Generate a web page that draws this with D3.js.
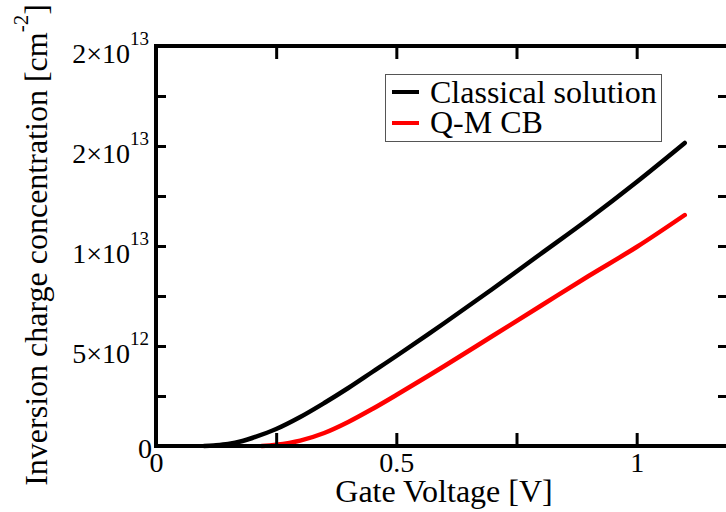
<!DOCTYPE html>
<html>
<head>
<meta charset="utf-8">
<script src="https://cdn.jsdelivr.net/npm/d3@7"></script>
<style>
  body { margin: 0; background: #fff; }
  svg text { font-family: "Liberation Serif", "LiberationSerif", "Times New Roman", Times, "DejaVu Serif", serif !important; fill: #000; }
</style>
</head>
<body>
<div id="chart"></div>
<script>
// data: gate voltage [V] vs inversion charge [cm^-2]
var classicalV = [0.10, 0.12, 0.15, 0.18, 0.20, 0.25, 0.30, 0.35, 0.40, 0.45, 0.50, 0.60, 0.70, 0.80, 0.90, 1.00, 1.10];
var classicalQ = [0, 0.03e12, 0.1e12, 0.25e12, 0.4e12, 0.85e12, 1.45e12, 2.15e12, 2.9e12, 3.7e12, 4.5e12, 6.15e12, 7.85e12, 9.6e12, 11.35e12, 13.2e12, 15.15e12];

var qmV = [0.22, 0.25, 0.30, 0.35, 0.40, 0.45, 0.50, 0.60, 0.70, 0.80, 0.90, 1.00, 1.10];
var qmQ = [0, 0.06e12, 0.27e12, 0.65e12, 1.2e12, 1.85e12, 2.55e12, 4.0e12, 5.5e12, 7.0e12, 8.5e12, 9.95e12, 11.55e12];

var seriesNames = ["Classical solution", "Q-M CB"];
var seriesColors = ["#000000", "#ff0000"];

// axis ticks and labels
var xTicks = [0, 0.25, 0.5, 0.75, 1];
var xLabels = ["0", "", "0.5", "", "1"];
var yTicks = [0, 2.5e12, 5e12, 7.5e12, 1e13, 1.25e13, 1.5e13, 1.75e13, 2e13];
var yLabelValues = [0, 5e12, 1e13, 1.5e13, 2e13];
var yLabelBase = ["0", "5\u00d710", "1\u00d710", "2\u00d710", "2\u00d710"];
var yLabelExp = ["", "12", "13", "13", "13"];

var W = 726, H = 512;
var serif = "'Liberation Serif', 'Times New Roman', Times, 'DejaVu Serif', serif";

var svg = d3.select("#chart")
  .append("svg")
    .attr("width", W)
    .attr("height", H)
    .attr("font-family", serif);

var x = d3.scaleLinear().domain([0, 1.19]).range([156, 728]);
var y = d3.scaleLinear().domain([0, 2e13]).range([446, 46]);

// curves
var line = d3.line()
  .x(function(d) { return x(d[0]); })
  .y(function(d) { return y(d[1]); })
  .curve(d3.curveCatmullRom);

var series = [
  d3.zip(classicalV, classicalQ),
  d3.zip(qmV, qmQ)
];

series.forEach(function(s, i) {
  svg.append("path")
    .datum(s)
    .attr("fill", "none")
    .attr("stroke", seriesColors[i])
    .attr("stroke-width", 4.5)
    .attr("stroke-linecap", "round")
    .attr("stroke-linejoin", "round")
    .attr("d", line);
});

// axes (ticks inward)
function styleAxis(g) {
  g.attr("font-family", null).attr("font-size", null);
  g.select(".domain").remove();
  g.selectAll(".tick line").attr("stroke", "#000").attr("stroke-width", 3);
}

svg.append("g")
  .attr("transform", "translate(0," + y(0) + ")")
  .call(d3.axisBottom(x).tickValues(xTicks).tickSizeInner(-13).tickSizeOuter(0).tickPadding(6)
    .tickFormat(function(d, i) { return xLabels[i]; }))
  .call(styleAxis)
  .selectAll("text")
    .style("font-family", serif)
    .style("font-size", "28px");

svg.append("g")
  .attr("transform", "translate(0," + y(2e13) + ")")
  .call(d3.axisTop(x).tickValues(xTicks).tickSizeInner(-13).tickSizeOuter(0).tickFormat(""))
  .call(styleAxis);

svg.append("g")
  .attr("transform", "translate(" + x(0) + ",0)")
  .call(d3.axisLeft(y).tickValues(yTicks).tickSizeInner(-10).tickSizeOuter(0).tickFormat(""))
  .call(styleAxis);

svg.append("g")
  .attr("transform", "translate(" + x(1.19) + ",0)")
  .call(d3.axisRight(y).tickValues(yTicks).tickSizeInner(-10).tickSizeOuter(0).tickFormat(""))
  .call(styleAxis);

// frame
svg.append("rect")
  .attr("x", x(0))
  .attr("y", y(2e13))
  .attr("width", x(1.19) - x(0))
  .attr("height", y(0) - y(2e13))
  .attr("fill", "none")
  .attr("stroke", "#000")
  .attr("stroke-width", 4);

// y tick labels with superscripts
yLabelValues.forEach(function(v, i) {
  var t = svg.append("text")
    .attr("x", yLabelExp[i] ? 149 : 152)
    .attr("y", y(v) + (yLabelExp[i] ? 17 : 12))
    .attr("text-anchor", "end")
    .style("font-size", "28px");
  t.append("tspan").text(yLabelBase[i]);
  if (yLabelExp[i]) {
    t.append("tspan")
      .attr("dy", -18)
      .style("font-size", "19px")
      .text(yLabelExp[i]);
  }
});

// axis titles
svg.append("text")
  .attr("x", 444)
  .attr("y", 502)
  .attr("text-anchor", "middle")
  .style("font-size", "32px")
  .text("Gate Voltage [V]");

var yt = svg.append("text")
  .attr("transform", "translate(47,245) rotate(-90)")
  .attr("text-anchor", "middle")
  .style("font-size", "32px");
yt.append("tspan").text("Inversion charge concentration [cm");
yt.append("tspan").attr("dy", -19).style("font-size", "21px").text("-2");
yt.append("tspan").attr("dy", 19).text("]");

// legend
var legend = svg.append("g");
legend.append("rect")
  .attr("x", 385.5)
  .attr("y", 74.5)
  .attr("width", 276)
  .attr("height", 67)
  .attr("fill", "#fff")
  .attr("stroke", "#555")
  .attr("stroke-width", 1);

seriesNames.forEach(function(name, i) {
  legend.append("line")
    .attr("x1", 392).attr("x2", 419)
    .attr("y1", 92 + i * 31).attr("y2", 92 + i * 31)
    .attr("stroke", seriesColors[i])
    .attr("stroke-width", 4);
  legend.append("text")
    .attr("x", 430)
    .attr("y", 103 + i * 30)
    .style("font-size", "32px")
    .text(name);
});
</script>
</body>
</html>
